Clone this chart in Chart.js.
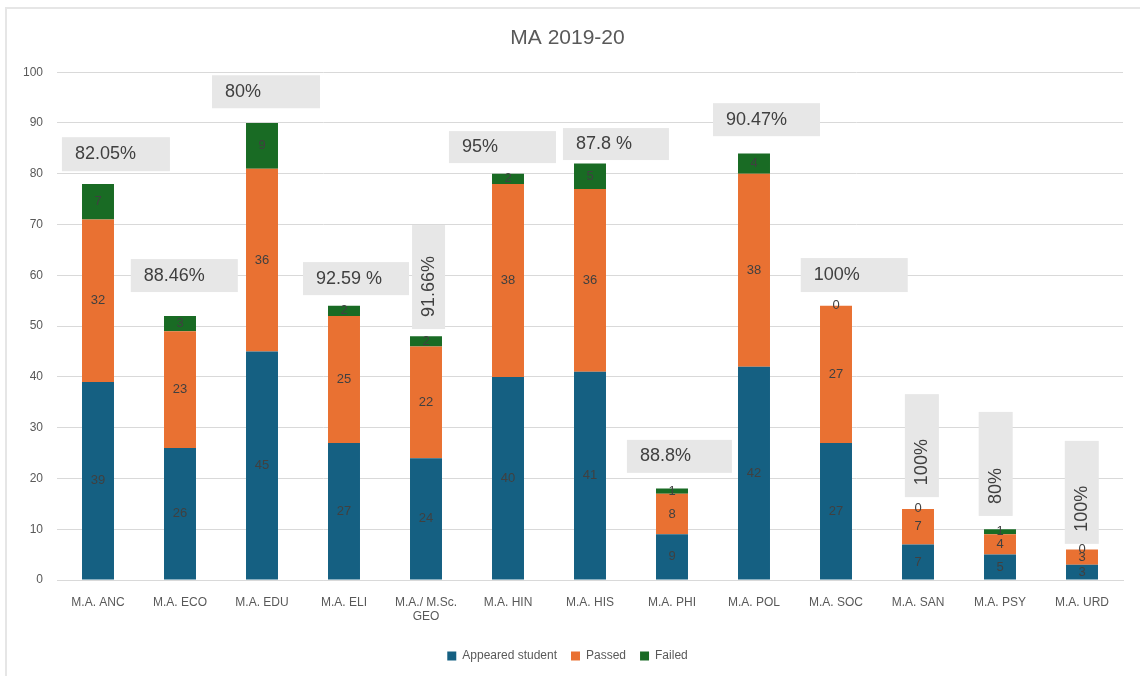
<!DOCTYPE html>
<html>
<head>
<meta charset="utf-8">
<script src="https://cdn.jsdelivr.net/npm/chart.js@4/dist/chart.umd.min.js"></script>
<style>
  html, body { margin: 0; padding: 0; background: #fff; }
  #wrap { position: relative; width: 1140px; height: 676px; }
</style>
</head>
<body>
<div id="wrap"><canvas id="chart" width="1140" height="676"></canvas></div>
<script>
    "use strict";

    // Data
    const categories = ['M.A. ANC', 'M.A. ECO', 'M.A. EDU', 'M.A. ELI', ['M.A./ M.Sc.', 'GEO'], 'M.A. HIN', 'M.A. HIS',
        'M.A. PHI', 'M.A. POL', 'M.A. SOC', 'M.A. SAN', 'M.A. PSY', 'M.A. URD'];
    const appeared = [39, 26, 45, 27, 24, 40, 41, 9, 42, 27, 7, 5, 3];
    const passed = [32, 23, 36, 25, 22, 38, 36, 8, 38, 27, 7, 4, 3];
    const failed = [7, 3, 9, 2, 2, 2, 5, 1, 4, 0, 0, 1, 0];
    const passPercent = ['82.05%', '88.46%', '80%', '92.59 %', '91.66%', '95%', '87.8 %',
        '88.8%', '90.47%', '100%', '100%', '80%', '100%'];
    const yTicks = [0, 10, 20, 30, 40, 50, 60, 70, 80, 90, 100];

    // Colors
    const blue = '#156082';
    const orange = '#E97132';
    const green = '#196B24';
    const gray_text = '#595959';
    const grid_gray = '#d9d9d9';

    const font = "'Liberation Sans', Arial, sans-serif";

    // Where the grey percentage boxes sit (x: category units, y: value units, size in px)
    const boxPlacement = [
        { x: -0.44, y: 87.2, w: 108, h: 34, vertical: false },
        { x: 0.40, y: 63.2, w: 107, h: 33, vertical: false },
        { x: 1.39, y: 99.4, w: 108, h: 33, vertical: false },
        { x: 2.50, y: 62.6, w: 106, h: 33, vertical: false },
        { x: 3.83, y: 69.9, w: 33, h: 104, vertical: true },
        { x: 4.28, y: 88.4, w: 107, h: 32, vertical: false },
        { x: 5.67, y: 89.0, w: 106, h: 32, vertical: false },
        { x: 6.45, y: 27.6, w: 105, h: 33, vertical: false },
        { x: 7.50, y: 93.9, w: 107, h: 33, vertical: false },
        { x: 8.57, y: 63.4, w: 107, h: 34, vertical: false },
        { x: 9.84, y: 36.6, w: 34, h: 103, vertical: true },
        { x: 10.74, y: 33.1, w: 34, h: 104, vertical: true },
        { x: 11.79, y: 27.4, w: 34, h: 103, vertical: true }
    ];

    // Frame around the chart
    const framePlugin = {
        id: 'frame',
        beforeDraw(chart) {
            const ctx = chart.ctx;
            ctx.save();
            ctx.fillStyle = '#fff';
            ctx.fillRect(0, 0, chart.width, chart.height);
            ctx.strokeStyle = '#e6e6e6';
            ctx.lineWidth = 2;
            ctx.beginPath();
            ctx.moveTo(6, 676);
            ctx.lineTo(6, 8);
            ctx.lineTo(1140, 8);
            ctx.stroke();
            ctx.restore();
        }
    };

    // Value labels in the middle of every segment
    const segmentLabels = {
        id: 'segmentLabels',
        afterDatasetsDraw(chart) {
            const ctx = chart.ctx;
            ctx.save();
            ctx.font = '13px ' + font;
            ctx.fillStyle = '#404040';
            ctx.textAlign = 'center';
            ctx.textBaseline = 'middle';
            chart.data.datasets.forEach((ds, di) => {
                chart.getDatasetMeta(di).data.forEach((bar, i) => {
                    const y = (bar.y + bar.base) / 2;
                    ctx.fillText(String(ds.data[i]), bar.x, y);
                });
            });
            ctx.restore();
        }
    };

    // Grey percentage boxes
    const percentBoxes = {
        id: 'percentBoxes',
        afterDatasetsDraw(chart) {
            const ctx = chart.ctx;
            const xs = chart.scales.x;
            const ys = chart.scales.y;
            const step = xs.getPixelForValue(1) - xs.getPixelForValue(0);
            ctx.save();
            boxPlacement.forEach((b, i) => {
                const left = xs.getPixelForValue(0) + b.x * step;
                const top = ys.getPixelForValue(b.y);
                ctx.fillStyle = '#e7e7e7';
                ctx.fillRect(left, top, b.w, b.h);
                ctx.fillStyle = '#404040';
                ctx.font = '18px ' + font;
                ctx.textBaseline = 'middle';
                ctx.textAlign = 'left';
                if (b.vertical) {
                    ctx.save();
                    ctx.translate(left + b.w / 2, top + b.h - 12);
                    ctx.rotate(-Math.PI / 2);
                    ctx.fillText(passPercent[i], 0, 0);
                    ctx.restore();
                } else {
                    ctx.fillText(passPercent[i], left + 13, top + b.h / 2);
                }
            });
            ctx.restore();
        }
    };

    const ctb = document.getElementById('chart').getContext('2d');
    const BarChart = new Chart(ctb, {
        type: 'bar',
        data: {
            labels: categories,
            datasets: [{
                label: 'Appeared student',
                data: appeared,
                backgroundColor: blue
            }, {
                label: 'Passed',
                data: passed,
                backgroundColor: orange
            }, {
                label: 'Failed',
                data: failed,
                backgroundColor: green
            }]
        },
        options: {
            responsive: false,
            animation: false,
            layout: {
                padding: { left: 12, right: 17, top: 18, bottom: 4 }
            },
            datasets: {
                bar: {
                    categoryPercentage: 1,
                    barPercentage: 0.39
                }
            },
            scales: {
                x: {
                    stacked: true,
                    grid: { display: false },
                    border: { color: grid_gray },
                    ticks: {
                        color: gray_text,
                        font: { family: font, size: 12 },
                        maxRotation: 0,
                        autoSkip: false,
                        padding: 7
                    },
                    afterFit(scale) { scale.height = 56; }
                },
                y: {
                    stacked: true,
                    min: 0,
                    max: 100,
                    afterBuildTicks(scale) { scale.ticks = yTicks.map(v => ({ value: v })); },
                    grid: { color: grid_gray, drawTicks: false },
                    border: { display: false },
                    ticks: {
                        color: gray_text,
                        font: { family: font, size: 12 },
                        padding: 14
                    },
                    afterFit(scale) { scale.width = 45; }
                }
            },
            plugins: {
                title: {
                    display: true,
                    text: 'MA 2019-20',
                    color: gray_text,
                    font: { family: font, size: 21, weight: 'normal' },
                    padding: { top: 8, bottom: 21 }
                },
                legend: {
                    position: 'bottom',
                    labels: {
                        color: gray_text,
                        font: { family: font, size: 12 },
                        boxWidth: 9,
                        boxHeight: 9,
                        padding: 14
                    }
                },
                tooltip: { enabled: false }
            }
        },
        plugins: [framePlugin, segmentLabels, percentBoxes]
    });
</script>
</body>
</html>
